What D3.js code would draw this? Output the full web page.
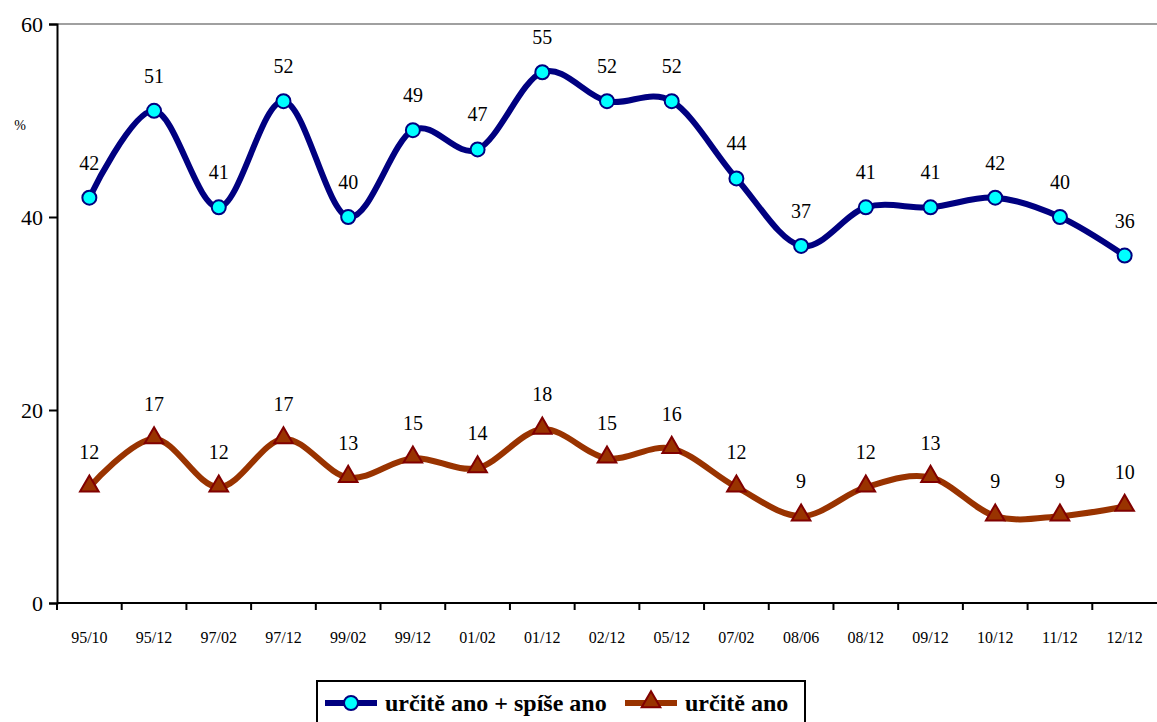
<!DOCTYPE html>
<html>
<head>
<meta charset="utf-8">
<script src="https://cdn.jsdelivr.net/npm/d3@7"></script>
<style>
body { margin: 0; background: #fff; }
text { font-family: "Liberation Serif", "Times New Roman", serif; }
</style>
</head>
<body>
<svg id="chart" width="1157" height="722"></svg>
<script>
// categories (survey waves)
var categories = ["95/10", "95/12", "97/02", "97/12", "99/02", "99/12", "01/02", "01/12", "02/12",
                  "05/12", "07/02", "08/06", "08/12", "09/12", "10/12", "11/12", "12/12"];
var series_both = [42, 51, 41, 52, 40, 49, 47, 55, 52, 52, 44, 37, 41, 41, 42, 40, 36];
var series_sure = [12, 17, 12, 17, 13, 15, 14, 18, 15, 16, 12, 9, 12, 13, 9, 9, 10];
var y_ticks = [0, 20, 40, 60];
var legend_labels = ["určitě ano + spíše ano", "určitě ano"];

var svg = d3.select("#chart");
var plot_left = 57, plot_right = 1157, plot_top = 24, plot_bottom = 603;

var x = d3.scaleBand().domain(categories).range([plot_left, plot_right]);
var y = d3.scaleLinear().domain([0, 60]).range([plot_bottom, plot_top]);

// top border
svg.append("line")
    .attr("x1", plot_left).attr("x2", plot_right)
    .attr("y1", plot_top).attr("y2", plot_top)
    .attr("stroke", "#808080").attr("stroke-width", 1.5);

// y axis
var y_axis = svg.append("g")
    .attr("transform", "translate(" + plot_left + ",0)")
    .call(d3.axisLeft(y).tickValues(y_ticks).tickSize(8).tickPadding(6));
y_axis.select(".domain").attr("stroke", "#000").attr("stroke-width", 2);
y_axis.selectAll(".tick line").attr("stroke", "#000").attr("stroke-width", 2);
y_axis.selectAll(".tick text")
    .style("font-family", "Liberation Serif, serif")
    .style("font-size", "22px").attr("fill", "#000");

svg.append("text")
    .attr("x", 20).attr("y", 130)
    .attr("text-anchor", "middle")
    .style("font-size", "14px")
    .text("%");

// x axis with ticks at band boundaries
var x_axis = svg.append("g").attr("transform", "translate(0," + plot_bottom + ")");
x_axis.append("line")
    .attr("x1", plot_left).attr("x2", plot_right)
    .attr("stroke", "#000").attr("stroke-width", 2);
x_axis.selectAll("line.tk")
    .data(categories)
    .enter().append("line")
    .attr("class", "tk")
    .attr("x1", function(d) { return x(d); })
    .attr("x2", function(d) { return x(d); })
    .attr("y1", 0).attr("y2", 7)
    .attr("stroke", "#000").attr("stroke-width", 2);
x_axis.selectAll("text")
    .data(categories)
    .enter().append("text")
    .attr("x", function(d) { return x(d) + x.bandwidth() / 2; })
    .attr("y", 40)
    .attr("text-anchor", "middle")
    .style("font-size", "16px")
    .text(function(d) { return d; });

function cx(i) { return x(categories[i]) + x.bandwidth() / 2; }

var line = d3.line()
    .x(function(d, i) { return cx(i); })
    .y(function(d) { return y(d); })
    .curve(d3.curveCatmullRom.alpha(0));

var all_series = [
    { values: series_both, color: "#000080", fill: "#00FFFF", stroke: "#000080", shape: "circle" },
    { values: series_sure, color: "#993300", fill: "#993300", stroke: "#800000", shape: "triangle" }
];

var tri = d3.symbol().type(d3.symbolTriangle).size(150);

all_series.forEach(function(s) {
    svg.append("path")
        .datum(s.values)
        .attr("d", line)
        .attr("fill", "none")
        .attr("stroke", s.color)
        .attr("stroke-width", 6)
        .attr("stroke-linejoin", "round");

    var g = svg.append("g");
    s.values.forEach(function(v, i) {
        if (s.shape == "circle") {
            g.append("circle")
                .attr("cx", cx(i)).attr("cy", y(v)).attr("r", 7)
                .attr("fill", s.fill).attr("stroke", s.stroke).attr("stroke-width", 2);
        } else {
            g.append("path")
                .attr("d", tri)
                .attr("transform", "translate(" + cx(i) + "," + (y(v) - 1) + ")")
                .attr("fill", s.fill).attr("stroke", s.stroke).attr("stroke-width", 2);
        }
        g.append("text")
            .attr("x", cx(i)).attr("y", y(v) - 28)
            .attr("text-anchor", "middle")
            .style("font-size", "20px")
            .text(v);
    });
});

// legend
var lg = svg.append("g");
lg.append("rect")
    .attr("x", 317).attr("y", 681).attr("width", 488).attr("height", 50)
    .attr("fill", "#fff").attr("stroke", "#000").attr("stroke-width", 2);

var lx = [325, 625];
all_series.forEach(function(s, i) {
    lg.append("line")
        .attr("x1", lx[i]).attr("x2", lx[i] + 52)
        .attr("y1", 703).attr("y2", 703)
        .attr("stroke", s.color).attr("stroke-width", 6);
    if (s.shape == "circle") {
        lg.append("circle")
            .attr("cx", lx[i] + 26).attr("cy", 703).attr("r", 7)
            .attr("fill", s.fill).attr("stroke", s.stroke).attr("stroke-width", 2);
    } else {
        lg.append("path")
            .attr("d", tri)
            .attr("transform", "translate(" + (lx[i] + 26) + ",702)")
            .attr("fill", s.fill).attr("stroke", s.stroke).attr("stroke-width", 2);
    }
    lg.append("text")
        .attr("x", lx[i] + 60).attr("y", 711)
        .style("font-size", "24px").style("font-weight", "bold")
        .text(legend_labels[i]);
});
</script>
</body>
</html>
